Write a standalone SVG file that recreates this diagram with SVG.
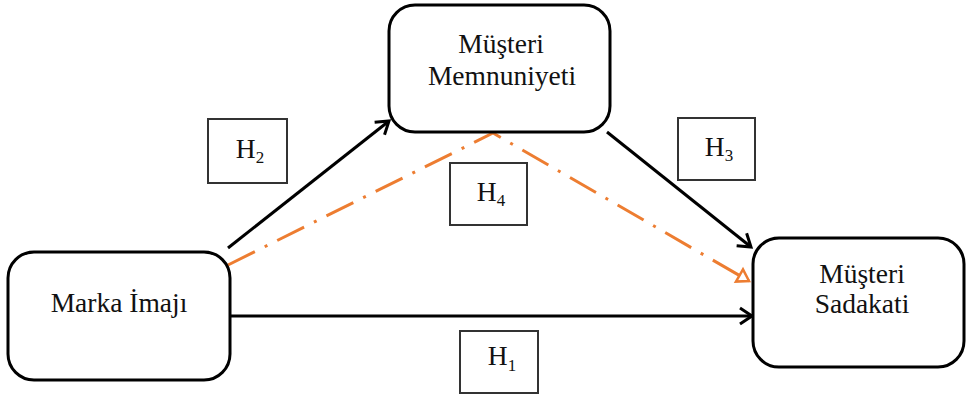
<svg xmlns="http://www.w3.org/2000/svg" width="967" height="399" viewBox="0 0 967 399">
<style>
.node{fill:#fff;stroke:#000;stroke-width:3}
.hbox{fill:#fff;stroke:#333;stroke-width:2}
.t{font-family:"Liberation Serif","Times New Roman",serif;font-size:27.5px;fill:#111;text-anchor:middle}
.sub{font-size:17px}
.arr{stroke:#000;stroke-width:3;fill:none}
.dd{stroke:#ED7D31;stroke-width:3;fill:none;stroke-dasharray:30 11 3 11}
</style>
<defs>
<marker id="ah" markerUnits="userSpaceOnUse" markerWidth="20" markerHeight="20" viewBox="0 0 20 20" refX="17" refY="10" orient="auto">
<path d="M5,2 L17,10 L5,18" fill="none" stroke="#000" stroke-width="3"/>
</marker>
<marker id="ao" markerUnits="userSpaceOnUse" markerWidth="20" markerHeight="20" viewBox="0 0 20 20" refX="17" refY="10" orient="auto">
<path d="M6,3 L17,10 L6,17 Z" fill="none" stroke="#ED7D31" stroke-width="2.5"/>
</marker>
</defs>
<g id="connectors">
<line class="arr" x1="228" y1="248" x2="389" y2="121" marker-end="url(#ah)"/>
<line class="arr" x1="607" y1="132" x2="751" y2="247" marker-end="url(#ah)"/>
<line class="arr" x1="230" y1="316" x2="752" y2="316" marker-end="url(#ah)"/>
<polyline class="dd" points="228,265 493,133 749,281" marker-end="url(#ao)"/>
</g>
<g id="marka">
<rect class="node" x="8" y="252" width="222" height="128" rx="26"/>
<text class="t" x="119" y="312">Marka İmajı</text>
</g>
<g id="memnuniyet">
<rect class="node" x="389" y="5" width="221" height="127" rx="26"/>
<text class="t" x="501" y="53">Müşteri</text>
<text class="t" x="502" y="85">Memnuniyeti</text>
</g>
<g id="sadakat">
<rect class="node" x="753" y="238" width="211" height="129" rx="26"/>
<text class="t" x="862" y="283">Müşteri</text>
<text class="t" x="862" y="313">Sadakati</text>
</g>
<g id="h2">
<rect class="hbox" x="208" y="119" width="79" height="64"/>
<text class="t" x="250" y="158">H<tspan class="sub" dy="5">2</tspan></text>
</g>
<g id="h3">
<rect class="hbox" x="678" y="118" width="77" height="62"/>
<text class="t" x="719" y="156">H<tspan class="sub" dy="5">3</tspan></text>
</g>
<g id="h4">
<rect class="hbox" x="450" y="163" width="77" height="62"/>
<text class="t" x="491" y="201">H<tspan class="sub" dy="5">4</tspan></text>
</g>
<g id="h1">
<rect class="hbox" x="460" y="331" width="78" height="62"/>
<text class="t" x="502" y="365">H<tspan class="sub" dy="6">1</tspan></text>
</g>
</svg>
